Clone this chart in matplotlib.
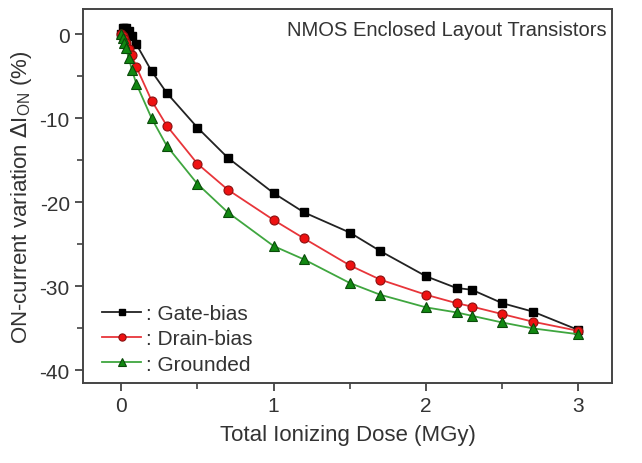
import matplotlib
matplotlib.use("Agg")
import matplotlib.pyplot as plt
from matplotlib.ticker import MultipleLocator

plt.rcParams["font.family"] = ["Liberation Sans", "DejaVu Sans"]
plt.rcParams["axes.unicode_minus"] = False

# dose in MGy
dose = [0, 0.01, 0.02, 0.03, 0.05, 0.07, 0.1, 0.2, 0.3, 0.5, 0.7, 1.0,
        1.2, 1.5, 1.7, 2.0, 2.2, 2.3, 2.5, 2.7, 3.0]

gate_bias = [0, 0.7, 0.8, 0.7, 0.4, -0.2, -1.2, -4.4, -7.0, -11.1, -14.7, -18.9,
             -21.2, -23.6, -25.8, -28.8, -30.2, -30.4, -32.0, -33.0, -35.2]
drain_bias = [0, -0.2, -0.6, -1.0, -1.7, -2.5, -3.9, -7.9, -10.9, -15.4, -18.5, -22.1,
              -24.3, -27.5, -29.2, -31.0, -32.0, -32.4, -33.3, -34.2, -35.3]
grounded = [0, -0.4, -1.0, -1.6, -2.8, -4.2, -5.9, -10.0, -13.3, -17.8, -21.2, -25.2,
            -26.8, -29.6, -31.0, -32.5, -33.1, -33.5, -34.3, -35.0, -35.7]

fig = plt.figure(figsize=(6.42, 4.64), dpi=100)
ax = fig.add_axes([0.1293, 0.1724, 0.824, 0.806])

ax.plot(dose, gate_bias, color="#222222", lw=1.3, marker="s", ms=5.5,
        mfc="black", mec="black", label=": Gate-bias")
ax.plot(dose, drain_bias, color="#e8353a", lw=1.3, marker="o", ms=6.5,
        mfc="#ee1111", mec="#8a1010", mew=0.8, label=": Drain-bias")
ax.plot(dose, grounded, color="#3fa63f", lw=1.3, marker="^", ms=7,
        mfc="#118811", mec="#0a4a0a", mew=0.8, label=": Grounded")

ax.set_xlim(-0.25, 3.22)
ax.set_ylim(-41.5, 3)
ax.xaxis.set_major_locator(MultipleLocator(1))
ax.xaxis.set_minor_locator(MultipleLocator(0.5))
ax.yaxis.set_major_locator(MultipleLocator(10))
ax.yaxis.set_minor_locator(MultipleLocator(5))

for s in ax.spines.values():
    s.set_linewidth(1.4)
    s.set_color("#444444")
ax.tick_params(which="major", direction="out", length=6, width=1.3,
               colors="#444444", labelcolor="#333333", labelsize=15)
ax.tick_params(which="minor", direction="out", length=4, width=1.2, colors="#444444")

ax.set_xlabel("Total Ionizing Dose (MGy)", fontsize=16, color="#333333", labelpad=6)
ax.set_ylabel(r"ON-current variation $\Delta$I$_{\mathregular{ON}}$ (%)",
              fontsize=16, color="#333333", labelpad=4)

ax.text(0.99, 0.97, "NMOS Enclosed Layout Transistors", transform=ax.transAxes,
        ha="right", va="top", fontsize=14.5, color="#333333")

ax.legend(loc="lower left", bbox_to_anchor=(0.0, -0.025), frameon=False,
          fontsize=15, handlelength=1.9, handletextpad=0.2, labelspacing=0.3,
          markerscale=0.8, labelcolor="#333333")

fig.savefig("out.png", dpi=100)
